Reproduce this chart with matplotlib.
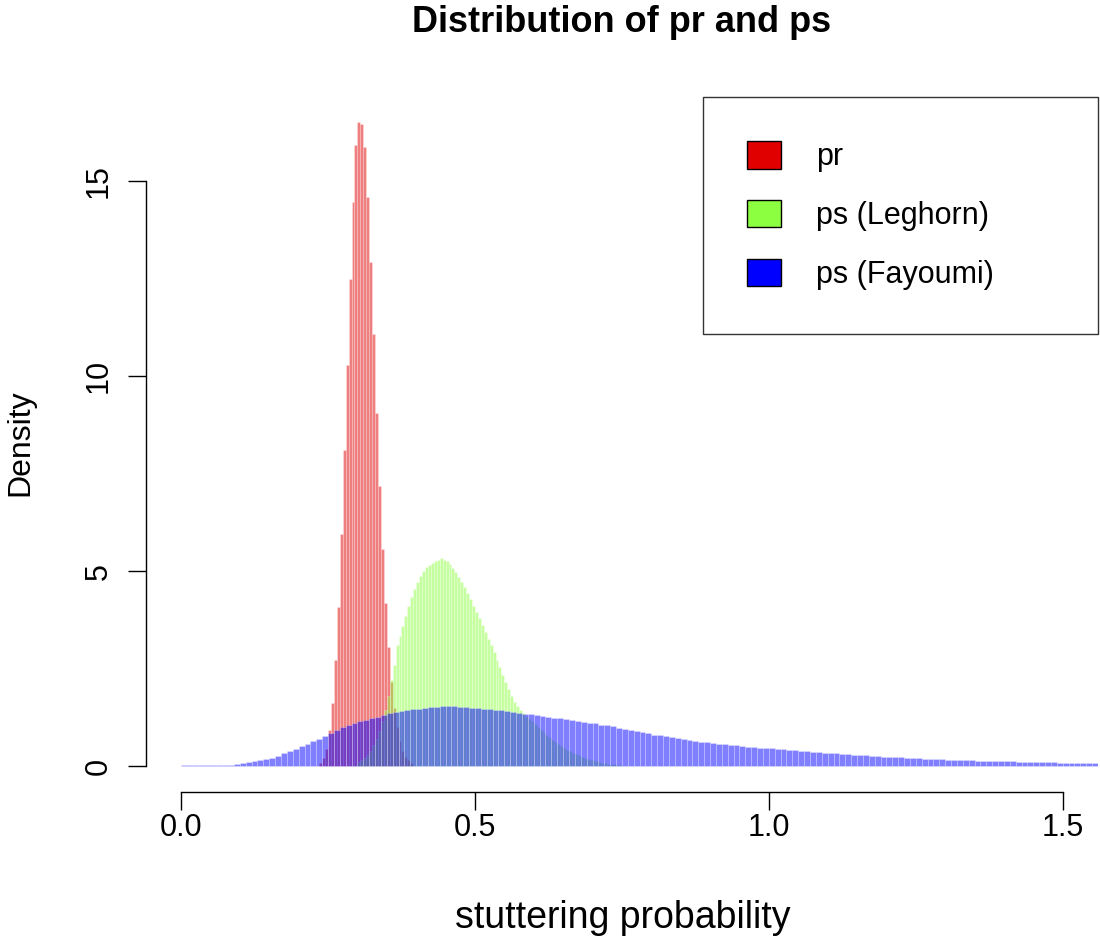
import matplotlib
matplotlib.use("Agg")
import matplotlib.pyplot as plt
from matplotlib.patches import Patch
import numpy as np

# ---------------- data ----------------
# pr : bin width 0.005, first bin starts at 0.235
pr_start = 0.235
pr_width = 0.005
pr_density = [0.08, 0.2, 0.45, 0.92, 1.62, 2.72, 4.08, 5.95, 8.1, 10.3, 12.5,
              14.46, 15.93, 16.52, 16.48, 15.88, 14.6, 12.93, 11.08, 9.05,
              7.18, 5.58, 4.18, 3.06, 2.16, 1.5, 1.0, 0.65, 0.4, 0.25, 0.15, 0.08]

# ps (Leghorn): bin width 0.005, first bin starts at 0.300
leg_start = 0.300
leg_width = 0.005
leg_density = [0.1, 0.15, 0.2, 0.3, 0.4, 0.55, 0.7, 0.9, 1.15, 1.45, 1.8, 2.2,
               2.6, 3.1, 3.35, 3.6, 3.85, 4.1, 4.35, 4.55, 4.72, 4.88, 5.0,
               5.1, 5.17, 5.22, 5.26, 5.3, 5.33, 5.3, 5.26, 5.18, 5.08, 4.97,
               4.85, 4.72, 4.6, 4.45, 4.28, 4.12, 3.95, 3.8, 3.62, 3.45, 3.27,
               3.1, 2.92, 2.72, 2.55, 2.35, 2.15, 1.98, 1.8, 1.66, 1.55, 1.45,
               1.37, 1.3, 1.22, 1.15, 1.08, 1.0, 0.93, 0.87, 0.8, 0.74, 0.68,
               0.62, 0.57, 0.52, 0.47, 0.42, 0.38, 0.34, 0.31, 0.28, 0.25,
               0.22, 0.19, 0.17, 0.15, 0.13, 0.11, 0.095, 0.08, 0.07, 0.06,
               0.05, 0.04, 0.03]

# ps (Fayoumi): bin width 0.01, first bin starts at 0.00
fay_start = 0.0
fay_width = 0.01
fay_density = [0.03, 0.03, 0.03, 0.03, 0.03, 0.03, 0.035, 0.04, 0.045, 0.06,
               0.08, 0.1, 0.125, 0.15, 0.18, 0.22, 0.27, 0.33, 0.39, 0.45,
               0.52, 0.57, 0.64, 0.70, 0.78, 0.86, 0.93, 1.0, 1.05, 1.1,
               1.15, 1.19, 1.23, 1.27, 1.32, 1.36, 1.39, 1.42, 1.45, 1.47,
               1.48, 1.50, 1.51, 1.52, 1.54, 1.55, 1.54, 1.53, 1.52, 1.50,
               1.49, 1.48, 1.46, 1.45, 1.43, 1.41, 1.39, 1.37, 1.35, 1.33,
               1.31, 1.29, 1.27, 1.25, 1.23, 1.21, 1.19, 1.17, 1.14, 1.12,
               1.10, 1.07, 1.05, 1.02, 0.99, 0.96, 0.93, 0.90, 0.87, 0.84,
               0.81, 0.79, 0.77, 0.74, 0.72, 0.69, 0.67, 0.65, 0.63, 0.61,
               0.59, 0.58, 0.56, 0.55, 0.54, 0.52, 0.50, 0.49, 0.48, 0.47,
               0.46, 0.45, 0.43, 0.42, 0.41, 0.40, 0.39, 0.37, 0.36, 0.35,
               0.34, 0.33, 0.32, 0.31, 0.30, 0.29, 0.28, 0.27, 0.26, 0.25,
               0.24, 0.235, 0.225, 0.215, 0.21, 0.20, 0.195, 0.19, 0.18, 0.175,
               0.17, 0.165, 0.16, 0.155, 0.15, 0.145, 0.14, 0.14, 0.135, 0.13,
               0.13, 0.125, 0.12, 0.115, 0.11, 0.11, 0.105, 0.10, 0.10, 0.095,
               0.09, 0.09, 0.085, 0.085, 0.08, 0.08, 0.075]

series_labels = ["pr", "ps (Leghorn)", "ps (Fayoumi)"]
x_ticks = [0.0, 0.5, 1.0, 1.5]
x_tick_labels = ["0.0", "0.5", "1.0", "1.5"]
y_ticks = [0, 5, 10, 15]
y_tick_labels = ["0", "5", "10", "15"]
title = "Distribution of pr and ps"
x_label = "stuttering probability"
y_label = "Density"

# ---------------- style ----------------
plt.rcParams['font.family'] = ['Liberation Sans', 'DejaVu Sans']
RED = "#E00000"
GREEN = "#8CFF40"
BLUE = "#0000FF"
FS = 22

W, H = 1100, 940
fig = plt.figure(figsize=(W / 100, H / 100), dpi=100)
left_px, right_px, top_px, bottom_px = 145.8, 1098, 97, 792
ax = fig.add_axes([left_px / W, 1 - bottom_px / H,
                   (right_px - left_px) / W, (bottom_px - top_px) / H])

def draw_hist(start, width, dens, color):
    edges = start + width * np.arange(len(dens))
    ax.bar(edges, dens, width=width, align='edge',
           color=matplotlib.colors.to_rgba(color, 0.5),
           edgecolor=(1, 1, 1, 0.35), linewidth=0.5)

draw_hist(pr_start, pr_width, pr_density, RED)
draw_hist(leg_start, leg_width, leg_density, GREEN)
draw_hist(fay_start, fay_width, fay_density, BLUE)

ymax = 16.5
ax.set_xlim(-0.06, 1.56)
ax.set_ylim(-0.04 * ymax, 1.04 * ymax)

for s in ["top", "right"]:
    ax.spines[s].set_visible(False)
ax.spines["bottom"].set_bounds(0, 1.5)
ax.spines["left"].set_bounds(0, 15)
for s in ["bottom", "left"]:
    ax.spines[s].set_linewidth(1.0)

ax.set_xticks(x_ticks)
ax.set_xticklabels(x_tick_labels, fontsize=FS)
ax.set_yticks(y_ticks)
ax.set_yticklabels(y_tick_labels, fontsize=FS, rotation=90, va='center')
ax.tick_params(axis='both', length=13, width=1.0, direction='out')
ax.tick_params(axis='x', pad=2)
ax.tick_params(axis='y', pad=10)

fig.text(622 / W, 1 - 23 / H, title, fontsize=26, fontweight='bold',
         ha='center', va='center')
fig.text(623 / W, 1 - 918 / H, x_label, fontsize=27, ha='center', va='center')
fig.text(20 / W, 1 - 443 / H, y_label, fontsize=23, rotation=90,
         ha='center', va='center')

handles = [Patch(facecolor=c, edgecolor='black', linewidth=1.0)
           for c in (RED, GREEN, BLUE)]
x0 = (703 - left_px) / (right_px - left_px)
leg = ax.legend(handles, series_labels, loc='upper right',
                bbox_to_anchor=(x0, 0.0, 1 - x0, 1.0), mode='expand',
                borderaxespad=0, fontsize=FS, frameon=True, fancybox=False,
                edgecolor='black', handlelength=1.1, handleheight=1.0,
                handletextpad=1.15, labelspacing=0.9, borderpad=1.45)
leg.get_frame().set_linewidth(1.0)

fig.savefig("out.png", dpi=100, facecolor='white')
